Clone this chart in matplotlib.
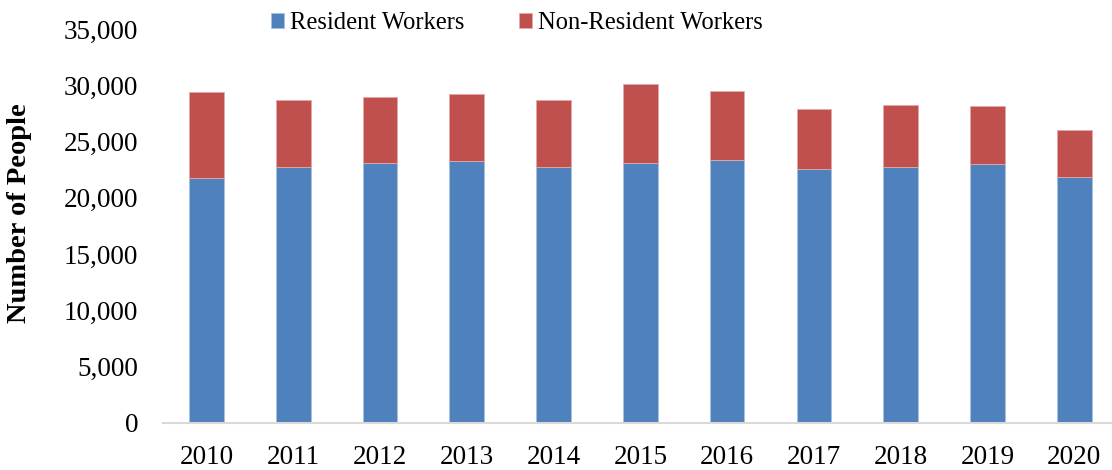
import matplotlib
matplotlib.use("Agg")
import matplotlib.pyplot as plt
import numpy as np
from matplotlib.ticker import FuncFormatter

years = ["2010", "2011", "2012", "2013", "2014", "2015", "2016", "2017", "2018", "2019", "2020"]
resident = [21750, 22720, 23100, 23310, 22720, 23100, 23350, 22540, 22720, 22990, 21830]
non_resident = [7650, 5990, 5900, 5910, 5960, 7030, 6130, 5340, 5520, 5160, 4240]
series_names = ["Resident Workers", "Non-Resident Workers"]
colors = ["#4F81BD", "#C0504D"]

plt.rcParams['font.family'] = ['Liberation Serif', 'DejaVu Serif']

fig = plt.figure(figsize=(11.12, 4.70), dpi=100)
ax = fig.add_axes([163.1 / 1112, 1 - 422.7 / 470, (1117.6 - 163.1) / 1112, (422.7 - 29.3) / 470])

x = np.arange(len(years))
w = 0.40
b1 = ax.bar(x, resident, w, color=colors[0], edgecolor="#A9C1E0", linewidth=0.6, label=series_names[0], zorder=2)
b2 = ax.bar(x, non_resident, w, bottom=resident, color=colors[1], edgecolor="#E2A9A8", linewidth=0.6, label=series_names[1], zorder=2)

ax.set_xlim(-0.5, len(years) - 0.5)
ax.set_ylim(0, 35000)
ax.set_yticks(np.arange(0, 35001, 5000))
ax.yaxis.set_major_formatter(FuncFormatter(lambda v, p: f"{int(v):,}"))
ax.set_xticks(x)
ax.set_xticklabels(years)

for s in ["top", "right", "left"]:
    ax.spines[s].set_visible(False)
ax.spines["bottom"].set_color("#D9D9D9")
ax.spines["bottom"].set_linewidth(1.5)
ax.tick_params(axis="both", length=0, labelsize=19.5, colors="black")
ax.tick_params(axis="y", pad=18)
ax.tick_params(axis="x", pad=16)

ax.set_ylabel("Number of People", fontsize=20.5, fontweight="bold")
ax.yaxis.set_label_coords((32 - 163.1) / 954.5, (422.7 - 213.5) / 393.4)

fig.legend(handles=[b1, b2], labels=series_names, loc="center", bbox_to_anchor=(517 / 1112, 1 - 23 / 470),
           ncol=2, frameon=False, fontsize=17.7, handlelength=0.53, handleheight=0.53, handletextpad=0.25,
           columnspacing=2.2)

fig.savefig("out.png", dpi=100)
